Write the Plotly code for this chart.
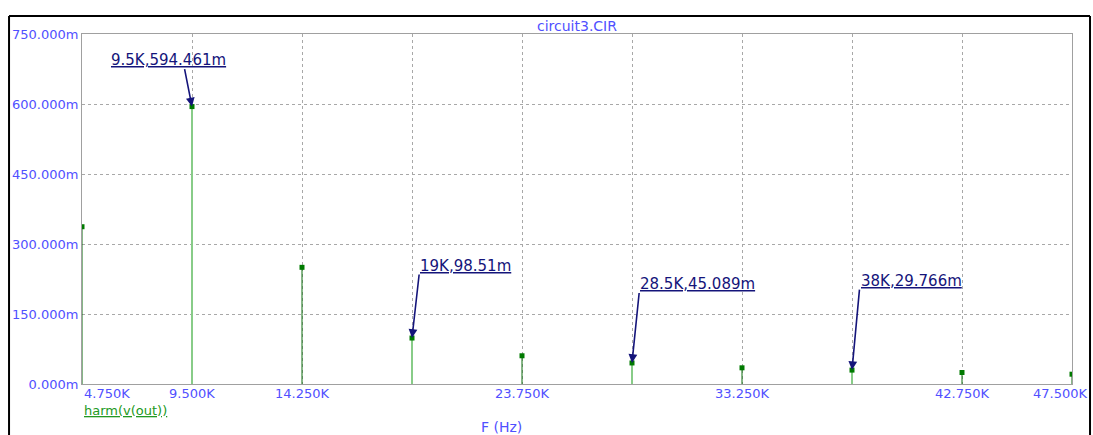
import plotly.graph_objects as go

# ---- data ----
freqs = [4750, 9500, 14250, 19000, 23750, 28500, 33250, 38000, 42750, 47500]
values_m = [337.0, 594.461, 250.0, 98.51, 60.5, 45.089, 34.7, 29.766, 24.6, 21.0]
marked_freqs = [9500, 19000, 28500, 38000]
marked_labels = ["9.5K,594.461m", "19K,98.51m", "28.5K,45.089m", "38K,29.766m"]
x_tick_vals = [4750, 9500, 14250, 23750, 33250, 42750, 47500]
x_tick_text = ["4.750K", "9.500K", "14.250K", "23.750K", "33.250K", "42.750K", "47.500K"]
y_tick_vals = [0, 150, 300, 450, 600, 750]
y_tick_text = ["0.000m", "150.000m", "300.000m", "450.000m", "600.000m", "750.000m"]
title_text = "circuit3.CIR"
trace_name = "harm(v(out))"
x_title = "F (Hz)"

BLUE = "#5050ff"
NAVY = "#14147a"
GRID = "#a8a8a8"
FONT = "DejaVu Sans"

# stems
def stems(sel):
    xs, ys = [], []
    for f, v in zip(freqs, values_m):
        if sel(f):
            xs += [f, f, None]
            ys += [0, v, None]
    return xs, ys

fig = go.Figure()
xs, ys = stems(lambda f: f not in marked_freqs)
fig.add_trace(go.Scatter(x=xs, y=ys, mode="lines",
                         line=dict(color="#0f6f0f", width=1), hoverinfo="skip"))
xs, ys = stems(lambda f: f in marked_freqs)
fig.add_trace(go.Scatter(x=xs, y=ys, mode="lines",
                         line=dict(color="#88cc88", width=2), hoverinfo="skip"))
fig.add_trace(go.Scatter(x=freqs, y=values_m, mode="markers",
                         marker=dict(symbol="square", size=5, color="#007a00",
                                     line=dict(width=0))))

# marker annotations: (arrow tail offset, label offset) in pixels
arrow_tail = [(-7.7, -39), (7.3, -65), (7.3, -71.5), (7.6, -82)]
label_off = [(-81.7, 39.4), (7.3, 65.2), (7.3, 71.5), (7.6, 82.3)]
annotations = []
for f, lab, (ax, ay), (lx, ly) in zip(marked_freqs, marked_labels, arrow_tail, label_off):
    v = values_m[freqs.index(f)]
    annotations.append(dict(x=f, y=v, xref="x", yref="y", text="", showarrow=True,
                            ax=ax, ay=ay, arrowcolor=NAVY, arrowwidth=1.6,
                            arrowhead=2, arrowsize=1.1, standoff=0))
    annotations.append(dict(x=f, y=v, xref="x", yref="y", text="<u>" + lab + "</u>",
                            showarrow=False, xanchor="left", yanchor="bottom",
                            xshift=lx, yshift=ly - 3, borderpad=0,
                            font=dict(family=FONT, size=15, color=NAVY)))

# x tick labels
for i, (tv, tt) in enumerate(zip(x_tick_vals, x_tick_text)):
    anchor = "left" if i == 0 else "center"
    shift = -12 if i == len(x_tick_vals) - 1 else 0
    annotations.append(dict(x=tv, y=0, xref="x", yref="paper", text=tt, showarrow=False,
                            xanchor=anchor, yanchor="top", xshift=shift, yshift=0,
                            font=dict(family=FONT, size=13, color=BLUE)))

annotations.append(dict(x=0.5, y=1.0229, xref="paper", yref="paper", text=title_text,
                        showarrow=False, xanchor="center", yanchor="middle",
                        font=dict(family=FONT, size=14, color=BLUE)))
annotations.append(dict(x=0, y=-0.077, xref="paper", yref="paper", text="<u>" + trace_name + "</u>",
                        showarrow=False, xanchor="left", yanchor="middle",
                        font=dict(family=FONT, size=13, color="#229922")))
annotations.append(dict(x=0.424, y=-0.122, xref="paper", yref="paper", text=x_title,
                        showarrow=False, xanchor="center", yanchor="middle",
                        font=dict(family=FONT, size=14, color=BLUE)))

shapes = [
    dict(type="line", xref="paper", yref="paper", x0=-0.0737, x1=-0.0737, y0=1.0514, y1=-0.3,
         line=dict(color="black", width=2)),
    dict(type="line", xref="paper", yref="paper", x0=-0.0737, x1=1.0182, y0=1.0514, y1=1.0514,
         line=dict(color="black", width=2)),
    dict(type="line", xref="paper", yref="paper", x0=1.0182, x1=1.0182, y0=1.0514, y1=-0.3,
         line=dict(color="black", width=2)),
]

fig.update_layout(
    width=1093, height=435,
    margin=dict(l=82, r=21, t=34, b=51, autoexpand=False),
    plot_bgcolor="white", paper_bgcolor="white",
    showlegend=False,
    font=dict(family=FONT, size=13, color=BLUE),
    annotations=annotations, shapes=shapes,
    xaxis=dict(range=[4750, 47500], tickvals=freqs, showticklabels=False,
               showgrid=True, gridcolor=GRID, griddash="dot", gridwidth=1,
               showline=True, linecolor="#a0a0a0", linewidth=1, mirror=True,
               zeroline=False, ticks="", automargin=False),
    yaxis=dict(range=[0, 750], tickvals=y_tick_vals, ticktext=y_tick_text,
               tickfont=dict(family=FONT, size=13, color=BLUE),
               showgrid=True, gridcolor=GRID, griddash="dot", gridwidth=1,
               showline=True, linecolor="#a0a0a0", linewidth=1, mirror=True,
               zeroline=False, ticks="", ticklabelstandoff=0, automargin=False),
)

# remove the page's default 8px body margin so the figure fills the window exactly
fig.write_html("out.html",
               config={"displayModeBar": False},
               post_script="document.body.style.margin='0';"
                           "document.documentElement.style.overflow='hidden';")
